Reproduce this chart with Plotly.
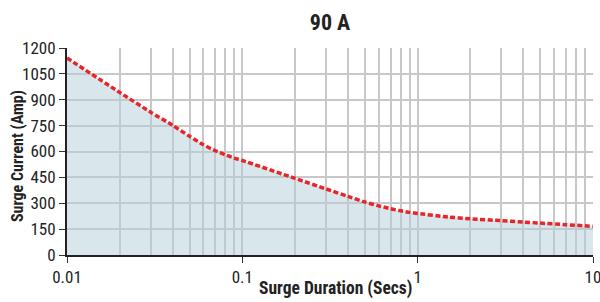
import plotly.graph_objects as go

duration_secs = [0.01, 0.02, 0.03, 0.04, 0.05, 0.06, 0.07, 0.08, 0.09, 0.1, 0.2, 0.3, 0.4, 0.5, 0.6, 0.7, 0.8, 0.9, 1, 1.5, 2, 3, 4, 5, 7, 10]
surge_current_amp = [1142, 942, 828, 752, 688, 639, 605, 581, 562, 548, 444, 383, 340, 307, 285, 268, 256, 247, 241, 220, 210, 199, 191, 185, 176, 166]

x_major = [0.01, 0.1, 1, 10]
x_major_labels = ["0.01", "0.1", "1", "10"]
x_minor = [m * d for d in (0.01, 0.1, 1) for m in range(2, 10)]
y_ticks = list(range(0, 1201, 150))

FONT = "Liberation Sans Narrow, Arial Narrow, Roboto Condensed, Liberation Sans, sans-serif"

fig = go.Figure()
fig.add_trace(go.Scatter(
    x=duration_secs, y=surge_current_amp, mode="lines",
    line=dict(color="#e8262a", width=3.5, dash="5px,2.5px", shape="spline", smoothing=0.6),
    fill="tozeroy", fillcolor="rgba(179,205,217,0.5)",
    hoverinfo="skip", showlegend=False,
))

fig.update_layout(
    width=600, height=302,
    margin=dict(l=67, r=7, t=48, b=47),
    paper_bgcolor="white", plot_bgcolor="white",
    font=dict(family=FONT, color="#222", size=16),
    title=dict(text="<b>90 A</b>", x=0.55, xanchor="center", y=0.925, yanchor="middle",
               font=dict(size=22, family=FONT, color="#222")),
    annotations=[
        dict(text="<b>Surge Current (Amp)</b>", textangle=-90, xref="paper", yref="paper",
             x=-0.095, y=0.478, xanchor="center", yanchor="middle", showarrow=False,
             font=dict(size=16, family=FONT, color="#222")),
        dict(text="<b>Surge Duration (Secs)</b>", xref="paper", yref="paper",
             x=0.51, y=-0.2246, xanchor="center", yanchor="bottom", showarrow=False,
             font=dict(size=17.5, family=FONT, color="#222")),
    ],
)
fig.update_xaxes(
    type="log", range=[-2, 1], automargin=False,
    tickvals=x_major, ticktext=x_major_labels, ticklabeloverflow="allow",
    ticks="outside", ticklen=6, tickcolor="#333",
    showline=True, linecolor="#222", linewidth=2,
    showgrid=True, gridcolor="#c8c8c8", gridwidth=1.5,
    minor=dict(tickvals=x_minor, showgrid=True, gridcolor="#c8c8c8", gridwidth=1.5, ticks=""),
    tickfont=dict(size=17),
    zeroline=False,
)
fig.update_yaxes(
    range=[0, 1200], tickvals=y_ticks, automargin=False,
    ticks="outside", ticklen=6, tickcolor="#333",
    showline=True, linecolor="#222", linewidth=2,
    showgrid=True, gridcolor="#c8c8c8", gridwidth=1.5,
    tickfont=dict(size=17),
    zeroline=False,
)

fig.write_html("out.html", config={"displayModeBar": False},
               post_script="document.body.style.margin='0';document.body.style.overflow='hidden';")
